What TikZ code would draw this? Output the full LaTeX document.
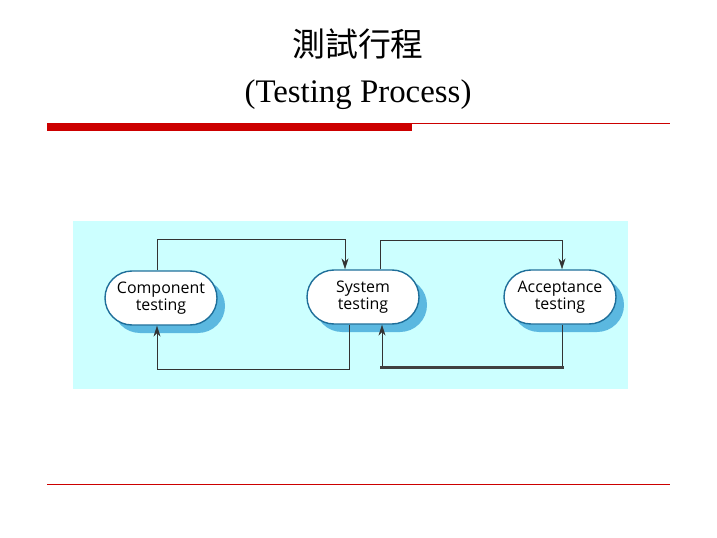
\documentclass[tikz,border=0pt]{standalone}
\usepackage{fontspec}
\setmainfont{Liberation Serif}
\newfontfamily\cjk{Noto Sans CJK TC}
\newfontfamily\stagefont{Open Sans}
\usetikzlibrary{arrows.meta,positioning,shapes.misc}
\definecolor{panelbg}{HTML}{CCFFFF}
\definecolor{stageshade}{HTML}{5BB8E0}
\definecolor{stageline}{HTML}{1F6F9A}
\definecolor{barred}{HTML}{CC0000}
\tikzset{
  stage/.style = {rounded rectangle, draw = stageline, line width = 1.4bp, fill = white,
    minimum width = 112bp, minimum height = 54bp, align = center,
    font = \stagefont\fontsize{16}{17}\selectfont, inner sep = 0pt},
  shade/.style = {rounded rectangle, fill = stageshade,
    minimum width = 112bp, minimum height = 54bp, inner sep = 0pt},
  flow/.style = {draw = black!80, line width = 0.6bp, -{Stealth[length=11bp,width=7bp]}},
}
\begin{document}
\begin{tikzpicture}[x=1bp, y=-1bp]
\useasboundingbox (0,0) rectangle (717,538);

% title and rules
\node (title) at (358,44) {\cjk\fontsize{33}{36}\selectfont 測試行程};
\node (subtitle) at (358,95) {\fontsize{33}{36}\selectfont (Testing Process)};
\fill[barred] (47,123) rectangle (412,131);
\draw[barred, line width = 0.6bp] (412,123) -- (670,123);
\draw[barred, line width = 0.6bp] (47,484) -- (670,484);

% panel
\fill[panelbg] (73,221) rectangle (628,389);

% shadows
\foreach \cx/\cy [count=\i] in {161/298, 363/297, 560/297}
  \node[shade] (shade\i) at (\cx+8,\cy+8) {};

\node[stage] (comp) at (161,298) {Component\\testing};
\node[stage] (sys) at (363,297) {System\\testing};
\node[stage] (acc) at (560,297) {Acceptance\\testing};

% connectors
\coordinate (c1) at (157,239);
\coordinate (c2) at (345,239);
\coordinate (c3) at (380,240);
\coordinate (c4) at (562,240);
\coordinate (c5) at (349,369);
\coordinate (c6) at (157,369);
\coordinate (c7) at (562,367);
\coordinate (c8) at (382,367);

\draw[flow] (comp.north -| c1) -- (c1) -- (c2) -- (sys.north -| c2);
\draw[flow] (sys.north -| c3) -- (c3) -- (c4) -- (acc.north -| c4);
\draw[flow] (sys.south -| c5) -- (c5) -- (c6) -- (comp.south -| c6);
\draw[flow] (acc.south -| c7) -- (c7) -- (c8) -- (sys.south -| c8);
\draw[black!75, line width = 3bp] (380,367) -- (564,367);
\end{tikzpicture}
\end{document}
